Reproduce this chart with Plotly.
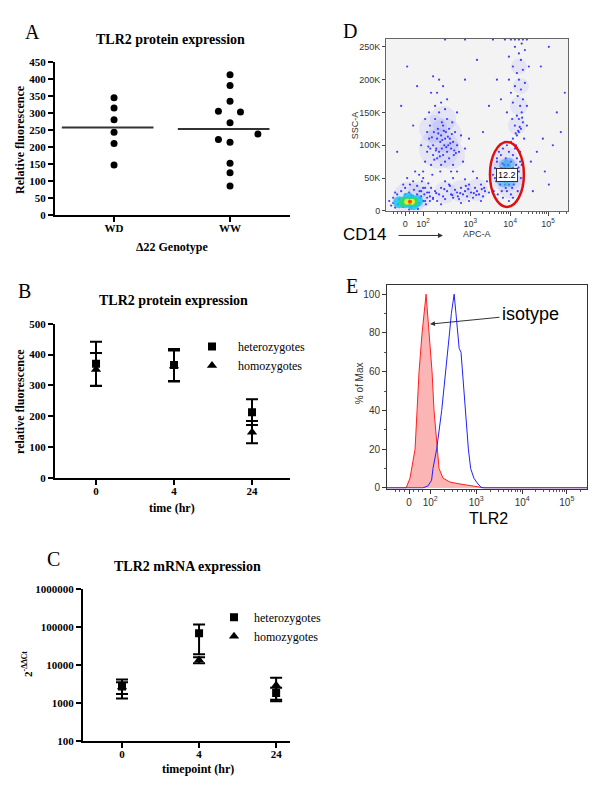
import plotly.graph_objects as go
import math

# ---------------- DATA ----------------
# Panel A: TLR2 protein expression by Δ22 genotype
a_genotypes = ["WD", "WW"]
a_wd_values = [345, 315, 280, 243, 210, 147]
a_ww_values = [413, 381, 335, 305, 303, 271, 238, 222, 214, 152, 124, 85]
a_ww_jitter = [0, 0, 0, -0.1, 0.09, 0, 0.24, -0.1, 0, 0, 0, 0]
a_wd_mean = 257
a_ww_mean = 253
a_yticks = [0, 50, 100, 150, 200, 250, 300, 350, 400, 450]

# Panel B: TLR2 protein expression over time
timepoints = ["0", "4", "24"]
b_het_mean = [370, 366, 213]
b_het_err = [72, 52, 42]
b_hom_mean = [352, 363, 148]
b_hom_err = [53, 50, 36]

# Panel C: TLR2 mRNA expression (2^-ΔΔCt)
c_het_mean = [2700, 68000, 1800]
c_het_err = [1400, 49000, 700]
c_hom_mean = [2600, 13500, 2900]
c_hom_err = [900, 2500, 1700]
c_yticks = [100, 1000, 10000, 100000, 1000000]

# Panel D: flow cytometry dot plot (APC display units, SSC in K)
d_apc = [
    0.45, 0.5, 0.55, 0.6, 0.62, 0.65, 0.7, 0.7, 0.72, 0.75, 0.78, 0.8, 0.8, 0.82, 0.85, 0.85, 0.88, 0.9, 0.9, 0.92,
    0.95, 0.95, 0.98, 1.0, 1.0, 1.02, 1.05, 1.05, 1.08, 1.1, 1.1, 1.12, 1.15, 1.18, 1.2, 1.2, 1.22, 1.25, 1.3, 1.3,
    1.35, 1.4, 1.45, 1.5, 0.55, 0.6, 0.75, 0.9, 1.0, 0.68, 0.88, 1.15, 1.05, 0.8, 0.95, 1.3, 0.4, 0.5, 0.65, 1.6,
    0.85, 0.7, 0.58, 0.67, 0.77, 0.83, 0.93, 1.03, 1.13, 1.23, 0.73, 0.87, 0.97, 1.07, 1.17, 1.27, 0.63, 0.92,
    -0.35, -0.3, -0.3, -0.25, -0.2, -0.18, -0.15, -0.1, -0.05, 0.0, 0.0, 0.05, 0.1, 0.12, 0.15, 0.2, 0.22, 0.25, 0.3,
    0.3, 0.35, 0.38, 0.4, 0.42, 0.45, 0.48, 0.5, 0.52, 0.55, 0.58, 0.6, 0.62, 0.65, 0.2, 0.05, 0.35, -0.05, 0.25, 0.45,
    -0.4, 0.1, 0.32, 0.28, 0.4, 0.5, 0.36, 0.55, 0.15, -0.25, 0.45, 0.62, 0.7,
    0.7, 0.75, 0.8, 0.85, 0.9, 0.95, 1.0, 1.05, 1.1, 1.15, 1.2, 1.25, 1.3, 1.35, 1.4, 1.45, 1.5, 1.55, 1.6, 1.65,
    1.7, 1.75, 1.8, 1.85, 1.9, 1.95, 2.0, 2.05, 2.1, 1.0, 1.2, 1.5, 1.8, 1.7, 1.4, 1.9, 0.9, 1.6,
    0.78, 0.98, 1.18, 1.38, 1.58, 1.78, 1.98, 1.12, 1.32, 1.52, 1.72, 1.92,
    2.15, 2.2, 2.22, 2.25, 2.28, 2.3, 2.32, 2.35, 2.38, 2.4, 2.4, 2.42, 2.45, 2.45, 2.48, 2.5, 2.5, 2.52, 2.55, 2.55,
    2.58, 2.58, 2.6, 2.6, 2.62, 2.65, 2.65, 2.68, 2.7, 2.7, 2.72, 2.75, 2.75, 2.78, 2.8, 2.8, 2.82, 2.85, 2.88, 2.9,
    2.92, 2.95, 2.35, 2.45, 2.6, 2.7, 2.5, 2.65, 2.25, 2.38, 2.52, 2.68, 2.78, 2.88, 2.3, 2.44, 2.57, 2.73, 2.84,
    2.7, 2.8, 2.85, 2.9, 2.75, 2.95, 2.85, 2.8, 2.92, 2.88, 2.7, 2.95, 2.82, 2.9, 2.75, 3.0, 2.85, 2.8, 2.95, 2.7,
    2.9, 2.85, 3.0, 2.75, 2.92, 2.6, 2.65, 2.55, 3.05, 3.1, 2.6, 2.98, 2.78, 3.05, 2.68, 2.83, 2.87, 2.93, 2.77,
    2.5, 2.65, 2.75, 2.85, 2.95, 3.05, 1.0, 1.5, 2.2,
    3.3, 3.5, 3.6, 3.8, 4.0, 3.4, 3.2, 3.7, 2.3, 1.8, 0.3, -0.1, 2.1, 1.95, 3.9, 0.05, 3.6, 2.4, 3.15, 3.45,
    -0.2, 0.2, 1.5,
]
d_ssc = [
    60, 75, 90, 110, 130, 70, 85, 100, 120, 140, 95, 80, 110, 125, 90, 150, 105, 70, 115, 95,
    130, 85, 100, 110, 75, 120, 90, 140, 100, 80, 125, 110, 95, 135, 70, 105, 85, 120, 100, 60,
    90, 115, 75, 95, 120, 150, 160, 165, 155, 55, 60, 60, 170, 180, 190, 150, 100, 140, 180, 110,
    200, 205, 98, 112, 92, 118, 108, 97, 103, 92, 78, 83, 122, 113, 117, 88, 95, 135,
    8, 12, 20, 5, 25, 10, 18, 30, 6, 25, 35, 8, 28, 40, 5, 22, 32, 8, 25,
    38, 12, 20, 30, 45, 15, 25, 35, 10, 20, 42, 28, 15, 35, 45, 50, 55, 40, 60, 50,
    15, 2, 3, 18, 22, 15, 30, 28, 24, 28, 35, 22, 18,
    20, 30, 15, 25, 35, 22, 18, 30, 40, 25, 20, 32, 28, 18, 35, 25, 30, 22, 40, 28,
    20, 35, 30, 25, 40, 22, 30, 45, 28, 45, 50, 48, 50, 60, 12, 15, 10, 15,
    27, 33, 24, 27, 33, 24, 35, 38, 22, 38, 27, 33,
    40, 55, 30, 65, 45, 75, 25, 55, 40, 85, 65, 30, 50, 95, 70, 40, 60, 80, 30, 100,
    50, 70, 90, 40, 60, 75, 25, 50, 85, 65, 40, 95, 55, 70, 45, 80, 30, 60, 90, 50,
    70, 40, 90, 20, 15, 20, 105, 105, 50, 60, 35, 35, 62, 75, 80, 72, 45, 58, 66,
    110, 115, 120, 125, 130, 135, 140, 145, 150, 160, 165, 170, 175, 185, 190, 195, 200, 210, 215, 220,
    230, 240, 245, 250, 255, 200, 180, 150, 160, 220, 235, 110, 100, 130, 140, 122, 128, 142, 118,
    261, 261, 261, 261, 261, 261, 261, 261, 261,
    90, 60, 40, 150, 180, 220, 30, 100, 200, 230, 190, 160, 160, 120, 120, 220, 250, 170, 75, 110,
    90, 130, 200,
]
# diffuse density of the dot clouds (apc, ssc, relative spread)
d_haze_apc = [0.85, 1.0, 0.7, 1.15, 0.95, 0.1, 0.38, 1.0, 1.4, 1.8, 2.55, 2.5, 2.65, 2.8, 2.85, 2.9, 2.85]
d_haze_ssc = [95, 115, 125, 85, 140, 18, 25, 28, 30, 32, 55, 78, 38, 130, 160, 190, 220]
d_haze_spread = [40, 34, 28, 28, 26, 34, 26, 22, 22, 22, 34, 26, 26, 18, 18, 16, 16]
# dense cores of the dot plot (density colour levels)
d_core_apc = [-0.15, 0.0, 0.15, 0.3, 0.08, 0.2, -0.05, 0.1, 0.22, 0.05, 0.17, 0.12]
d_core_ssc = [13, 13, 14, 15, 19, 10, 13, 14, 14, 14, 14, 14]
d_core_level = ["cyan"] * 6 + ["green"] * 3 + ["yellow"] * 2 + ["red"]
d_mono_apc = [2.45, 2.55, 2.62, 2.5, 2.6, 2.45, 2.65, 2.58, 2.52, 2.6, 2.55]
d_mono_ssc = [45, 60, 45, 70, 72, 58, 58, 55, 45, 62, 52]
d_mono_level = ["lightblue"] * 7 + ["cyan"] * 4
d_gate = dict(apc=(2.125, 2.975), ssc=(6, 105), label="12.2", label_pos=(2.55, 54))
d_x_tickvals = [0, 0.45, 1.63, 2.63, 3.58]
d_x_ticktext = ["0", "10<sup>2</sup>", "10<sup>3</sup>", "10<sup>4</sup>", "10<sup>5</sup>"]
d_y_tickvals = [0, 50, 100, 150, 200, 250]
d_y_ticktext = ["0", "50K", "100K", "150K", "200K", "250K"]

# Panel E: histogram overlay (display units, % of max)
e_iso_x = [-0.48, -0.065, 0.02, 0.087, 0.13, 0.174, 0.217, 0.283, 0.37, 0.435, 0.5, 0.543, 0.61, 0.652, 0.74,
           0.89, 1.11, 1.43, 1.65, 3.87]
e_iso_y = [0, 0, 5, 15, 20, 40, 60, 80, 100, 80, 60, 40, 20, 10, 5, 3, 2, 1, 0, 0]
e_tlr2_x = [-0.48, 0.30, 0.41, 0.49, 0.52, 0.60, 0.71, 0.80, 0.84, 0.88, 0.92, 0.98, 1.02, 1.05, 1.09, 1.13,
            1.16, 1.22, 1.29, 1.34, 1.41, 1.50, 1.58, 3.87]
e_tlr2_y = [0, 0, 1, 4, 10, 20, 40, 60, 68, 80, 90, 100, 90, 80, 72, 70, 60, 40, 20, 10, 5, 2, 0, 0]
e_x_tickvals = [0, 0.46, 1.46, 2.46, 3.43]
e_x_ticktext = ["0", "10<sup>2</sup>", "10<sup>3</sup>", "10<sup>4</sup>", "10<sup>5</sup>"]
e_y_tickvals = [0, 20, 40, 60, 80, 100]

# ---------------- HELPERS ----------------
W, H = 600, 794
SERIF = "Liberation Serif"
SANS = "Liberation Sans"


def px(x):
    return x / W


def py(y):
    return 1 - y / H


def minor_log(decades, lin):
    vals = list(lin)
    for i in range(len(decades) - 1):
        a, b = decades[i], decades[i + 1]
        for m in range(2, 10):
            vals.append(a + (b - a) * math.log10(m))
    return vals


fig = go.Figure()

# ---------------- PANEL A ----------------
fig.add_trace(go.Scatter(x=[1] * len(a_wd_values), y=a_wd_values, mode="markers",
                         marker=dict(color="black", size=7), xaxis="x", yaxis="y", showlegend=False))
fig.add_trace(go.Scatter(x=[2 + j for j in a_ww_jitter], y=a_ww_values, mode="markers",
                         marker=dict(color="black", size=7), xaxis="x", yaxis="y", showlegend=False))
fig.add_trace(go.Scatter(x=[1 - 0.45, 1 + 0.34], y=[a_wd_mean] * 2, mode="lines",
                         line=dict(color="#333", width=2), xaxis="x", yaxis="y", showlegend=False))
fig.add_trace(go.Scatter(x=[2 - 0.45, 2 + 0.34], y=[a_ww_mean] * 2, mode="lines",
                         line=dict(color="#333", width=2), xaxis="x", yaxis="y", showlegend=False))

# ---------------- PANEL B ----------------
err_style = dict(type="data", thickness=2, width=6, color="black")
fig.add_trace(go.Scatter(x=[0, 1, 2], y=b_hom_mean, mode="markers", name="homozygotes",
                         marker=dict(symbol="triangle-up", color="black", size=9),
                         error_y=dict(array=b_hom_err, **err_style), xaxis="x2", yaxis="y2",
                         legend="legend", legendrank=2))
fig.add_trace(go.Scatter(x=[0, 1, 2], y=b_het_mean, mode="markers", name="heterozygotes",
                         marker=dict(symbol="square", color="black", size=8),
                         error_y=dict(array=b_het_err, **err_style), xaxis="x2", yaxis="y2",
                         legend="legend", legendrank=1))

# ---------------- PANEL C ----------------
fig.add_trace(go.Scatter(x=[0, 1, 2], y=c_hom_mean, mode="markers", name="homozygotes",
                         marker=dict(symbol="triangle-up", color="black", size=9),
                         error_y=dict(array=c_hom_err, **err_style), xaxis="x3", yaxis="y3",
                         legend="legend2", legendrank=2))
fig.add_trace(go.Scatter(x=[0, 1, 2], y=c_het_mean, mode="markers", name="heterozygotes",
                         marker=dict(symbol="square", color="black", size=8),
                         error_y=dict(array=c_het_err, **err_style), xaxis="x3", yaxis="y3",
                         legend="legend2", legendrank=1))

# ---------------- PANEL D ----------------
fig.add_trace(go.Scatter(x=d_haze_apc, y=d_haze_ssc, mode="markers",
                         marker=dict(color="#4a4aff", size=d_haze_spread, opacity=0.09, line=dict(width=0)),
                         xaxis="x4", yaxis="y4", showlegend=False, hoverinfo="skip"))
fig.add_trace(go.Scatter(x=d_apc, y=d_ssc, mode="markers",
                         marker=dict(color="#2b2bff", size=2.2, opacity=0.9),
                         xaxis="x4", yaxis="y4", showlegend=False, hoverinfo="skip"))
mono_colors = {"lightblue": "#2a9cf0", "cyan": "#55ccf4"}
mono_sizes = {"lightblue": 12, "cyan": 8}
for lvl in ["lightblue", "cyan"]:
    idx = [i for i, l in enumerate(d_mono_level) if l == lvl]
    fig.add_trace(go.Scatter(x=[d_mono_apc[i] for i in idx], y=[d_mono_ssc[i] for i in idx], mode="markers",
                             marker=dict(color=mono_colors[lvl], size=mono_sizes[lvl], opacity=0.45, line=dict(width=0)),
                             xaxis="x4", yaxis="y4", showlegend=False, hoverinfo="skip"))
core_colors = {"cyan": "#19c4f0", "green": "#33dd55", "yellow": "#ffee22", "red": "#ff2a10"}
core_sizes = {"cyan": 12, "green": 9, "yellow": 6, "red": 4}
for lvl in ["cyan", "green", "yellow", "red"]:
    idx = [i for i, l in enumerate(d_core_level) if l == lvl]
    fig.add_trace(go.Scatter(x=[d_core_apc[i] for i in idx], y=[d_core_ssc[i] for i in idx], mode="markers",
                             marker=dict(color=core_colors[lvl], size=core_sizes[lvl], opacity=0.85, line=dict(width=0)),
                             xaxis="x4", yaxis="y4", showlegend=False, hoverinfo="skip"))

# ---------------- PANEL E ----------------
fig.add_trace(go.Scatter(x=e_iso_x, y=e_iso_y, mode="lines", fill="tozeroy",
                         fillcolor="rgba(250,120,120,0.55)", line=dict(color="#ff2020", width=1),
                         xaxis="x5", yaxis="y5", showlegend=False))
fig.add_trace(go.Scatter(x=e_tlr2_x, y=e_tlr2_y, mode="lines", line=dict(color="#2020ff", width=1),
                         xaxis="x5", yaxis="y5", showlegend=False))

# ---------------- AXES ----------------
bold_tick = dict(family=SERIF, size=11, color="black", weight="bold")
common = dict(showgrid=False, zeroline=False, showline=True, linecolor="black", linewidth=2,
              ticks="outside", ticklen=5, tickwidth=2, tickcolor="black", tickfont=bold_tick)

layout = dict(
    width=W, height=H, margin=dict(l=0, r=0, t=0, b=0),
    paper_bgcolor="white", plot_bgcolor="rgba(0,0,0,0)",
    xaxis=dict(domain=[px(55), px(290)], range=[0.491, 2.517], tickvals=[1, 2], ticktext=a_genotypes,
               anchor="y", **common),
    yaxis=dict(domain=[py(212), py(57)], range=[0, 450], tickvals=a_yticks, anchor="x", **common),
    xaxis2=dict(domain=[px(55), px(290)], range=[-0.526, 2.487], tickvals=[0, 1, 2], ticktext=timepoints,
                anchor="y2", **common),
    yaxis2=dict(domain=[py(479), py(322.7)], range=[0, 500], tickvals=[0, 100, 200, 300, 400, 500],
                anchor="x2", **common),
    xaxis3=dict(domain=[px(83), px(290)], range=[-0.506, 2.18], tickvals=[0, 1, 2], ticktext=timepoints,
                anchor="y3", **common),
    yaxis3=dict(domain=[py(746), py(592)], type="log", range=[2, 6], tickvals=c_yticks,
                ticktext=[str(v) for v in c_yticks], anchor="x3", **common),
    xaxis4=dict(domain=[px(386), px(568)], range=[-0.48, 4.08], tickvals=d_x_tickvals, ticktext=d_x_ticktext,
                anchor="y4", showgrid=False, zeroline=False, showline=True, mirror=True, linecolor="#666",
                linewidth=1, ticks="outside", ticklen=4, tickcolor="#444",
                tickfont=dict(family=SANS, size=9, color="#333"),
                minor=dict(tickmode="array", ticks="outside", ticklen=2, tickcolor="#555",
                           tickvals=minor_log([0.45, 1.63, 2.63, 3.58, 4.53], [-0.3, -0.2, -0.1, 0.1, 0.2, 0.3]))),
    yaxis4=dict(domain=[py(208), py(33)], range=[0, 262.7], tickvals=d_y_tickvals, ticktext=d_y_ticktext,
                anchor="x4", showgrid=False, zeroline=False, showline=True, mirror=True, linecolor="#666",
                linewidth=1, ticks="outside", ticklen=3, tickcolor="#444",
                tickfont=dict(family=SANS, size=9, color="#333")),
    xaxis5=dict(domain=[px(387), px(587)], range=[-0.48, 3.87], tickvals=e_x_tickvals, ticktext=e_x_ticktext,
                anchor="y5", showgrid=False, zeroline=False, showline=True, mirror=True, linecolor="#333",
                linewidth=1, ticks="outside", ticklen=4, tickcolor="#333",
                tickfont=dict(family=SANS, size=10, color="#333"),
                minor=dict(tickmode="array", ticks="outside", ticklen=2, tickcolor="#555",
                           tickvals=minor_log([0.46, 1.46, 2.46, 3.43, 4.4], [-0.3, -0.2, -0.1, 0.1, 0.2, 0.3]))),
    yaxis5=dict(domain=[py(490), py(283)], range=[-0.36, 104.9], tickvals=e_y_tickvals, anchor="x5",
                showgrid=False, zeroline=False, showline=True, mirror=True, linecolor="#333", linewidth=1,
                ticks="outside", ticklen=4, tickcolor="#333", tickfont=dict(family=SANS, size=10, color="#333"),
                minor=dict(dtick=10, ticks="outside", ticklen=2, tickcolor="#555")),
    legend=dict(x=px(186), y=py(331), xanchor="left", yanchor="top", bgcolor="rgba(0,0,0,0)",
                font=dict(family=SERIF, size=12, color="black"), tracegroupgap=0, itemwidth=42),
    legend2=dict(x=px(214), y=py(606), xanchor="left", yanchor="top", bgcolor="rgba(0,0,0,0)",
                 font=dict(family=SERIF, size=12, color="black"), tracegroupgap=0),
)

shapes = [
    dict(type="rect", xref="x4 domain", yref="y4 domain", x0=0, x1=1, y0=0, y1=1,
         fillcolor="#f3f3f3", line=dict(width=0), layer="below"),
    dict(type="circle", xref="x4", yref="y4", x0=d_gate["apc"][0], x1=d_gate["apc"][1],
         y0=d_gate["ssc"][0], y1=d_gate["ssc"][1], line=dict(color="#e01010", width=2.5)),
]


def txt(x, y, text, size, family=SERIF, color="black", angle=0, **kw):
    d = dict(x=px(x), y=py(y), xref="paper", yref="paper", text=text, showarrow=False,
             font=dict(family=family, size=size, color=color), textangle=angle,
             xanchor="center", yanchor="middle")
    d.update(kw)
    return d


annotations = [
    # panel letters
    txt(32, 26, "A", 20), txt(24, 289, "B", 20), txt(53, 561, "C", 20),
    txt(350, 25, "D", 20), txt(352, 284, "E", 20),
    # titles
    txt(171, 34, "<b>TLR2 protein expression</b>", 14),
    txt(173, 299, "<b>TLR2 protein expression</b>", 14),
    txt(187, 569, "<b>TLR2 mRNA expression</b>", 14),
    # axis titles
    txt(20, 136, "<b>Relative fluorescence</b>", 12, angle=-90),
    txt(172, 245, "<b>Δ22 Genotype</b>", 12),
    txt(20, 402, "<b>relative fluorescence</b>", 12, angle=-90),
    txt(172, 510, "<b>time (hr)</b>", 12),
    txt(27, 668, "<b>2<sup>-ΔΔCt</sup></b>", 11, angle=-90),
    txt(198, 775, "<b>timepoint (hr)</b>", 12),
    txt(355, 121, "SSC-A", 9, family=SANS, color="#333", angle=-90),
    txt(477, 231, "APC-A", 9, family=SANS, color="#333"),
    txt(365, 232, "CD14", 17, family=SANS),
    txt(359, 383, "% of Max", 10, family=SANS, color="#333", angle=-90),
    txt(488, 520, "TLR2", 16, family=SANS),
    txt(530, 313, "isotype", 18, family=SANS),
    # gate label
    dict(x=d_gate["label_pos"][0], y=d_gate["label_pos"][1], xref="x4", yref="y4", text=d_gate["label"],
         showarrow=False, font=dict(family=SANS, size=9, color="black"), bgcolor="white",
         bordercolor="#333", borderwidth=1, borderpad=1),
    # arrows
    dict(x=px(443), y=py(233), xref="paper", yref="paper", text="", showarrow=True, ax=-46, ay=0,
         arrowhead=2, arrowsize=1, arrowwidth=1, arrowcolor="#333"),
    dict(x=px(430), y=py(323), xref="paper", yref="paper", text="", showarrow=True, ax=71, ay=-7,
         arrowhead=2, arrowsize=1, arrowwidth=1, arrowcolor="#333"),
]

fig.update_layout(**layout, shapes=shapes, annotations=annotations)
for ax in ["xaxis", "xaxis2", "xaxis3"]:
    fig.layout[ax].ticklabelstandoff = -3
fig.write_html("out.html", config={"displayModeBar": False},
               post_script="document.body.style.margin='0';document.body.style.overflow='hidden';")
